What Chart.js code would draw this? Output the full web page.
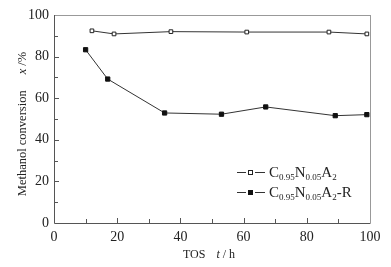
<!DOCTYPE html>
<html>
<head>
<meta charset="utf-8">
<script src="https://cdn.jsdelivr.net/npm/chart.js@4.4.0/dist/chart.umd.min.js"></script>
<style>
html,body{margin:0;padding:0;background:#fff;}
#wrap{width:391px;height:267px;position:relative;}
</style>
</head>
<body>
<div id="wrap"><canvas id="c" width="391" height="267"></canvas></div>
<script>
const xFresh = [12, 19, 37, 61, 87, 99];
const yFresh = [92.4, 90.9, 92.0, 91.8, 91.8, 90.9];
const xRegen = [10, 17, 35, 53, 67, 89, 99];
const yRegen = [83.3, 69.2, 52.9, 52.3, 55.8, 51.6, 52.1];
const xTicks = [0, 20, 40, 60, 80, 100];
const yTicks = [0, 20, 40, 60, 80, 100];
const legendParts1 = [["C",0],["0.95",1],["N",0],["0.05",1],["A",0],["2",1]];
const legendParts2 = [["C",0],["0.95",1],["N",0],["0.05",1],["A",0],["2",1],["-R",0]];

const SERIF = '"Liberation Serif","Times New Roman",serif';

function toPts(xs, ys){ return xs.map((x,i)=>({x:x,y:ys[i]})); }

function drawRich(ctx, parts, x, y, size){
  let cx = x;
  for (const [t, sub] of parts){
    ctx.font = (sub ? Math.round(size*0.62) : size) + 'px ' + SERIF;
    ctx.fillText(t, cx, sub ? y + 3 : y);
    cx += ctx.measureText(t).width;
  }
}

const decor = {
  id: 'decor',
  afterDraw(chart){
    const ctx = chart.ctx;
    const a = chart.chartArea;
    const xs = chart.scales.x, ys = chart.scales.y;
    ctx.save();
    // frame
    ctx.lineWidth = 1;
    ctx.strokeStyle = '#999';
    ctx.beginPath();
    ctx.moveTo(a.left, a.top + 0.5); ctx.lineTo(a.right + 0.5, a.top + 0.5);
    ctx.moveTo(a.right + 0.5, a.top); ctx.lineTo(a.right + 0.5, a.bottom);
    ctx.stroke();
    ctx.strokeStyle = '#555';
    ctx.beginPath();
    ctx.moveTo(a.left + 0.5, a.top); ctx.lineTo(a.left + 0.5, a.bottom + 0.5);
    ctx.lineTo(a.right + 0.5, a.bottom + 0.5);
    ctx.stroke();
    // inward ticks
    ctx.beginPath();
    for (let v = 10; v < 100; v += 10){
      const len = (v % 20 === 0) ? 5 : 4;
      const px = Math.round(xs.getPixelForValue(v)) + 0.5;
      ctx.moveTo(px, a.bottom); ctx.lineTo(px, a.bottom - len);
      const py = Math.round(ys.getPixelForValue(v)) + 0.5;
      ctx.moveTo(a.left, py); ctx.lineTo(a.left + len, py);
    }
    ctx.stroke();
    // axis titles
    ctx.fillStyle = '#222';
    ctx.textBaseline = 'middle';
    ctx.textAlign = 'left';
    // x title
    const XF = 12;
    ctx.font = XF + 'px ' + SERIF;
    const t1 = 'TOS', t2 = 't', t3 = ' / h';
    const w1 = ctx.measureText(t1).width;
    ctx.font = 'italic ' + XF + 'px ' + SERIF;
    const w2 = ctx.measureText(t2).width;
    ctx.font = XF + 'px ' + SERIF;
    const w3 = ctx.measureText(t3).width;
    const gap = 11;
    let sx = 209 - (w1 + gap + w2 + w3)/2;
    const ty = 255;
    ctx.fillText(t1, sx, ty);
    ctx.font = 'italic ' + XF + 'px ' + SERIF;
    ctx.fillText(t2, sx + w1 + gap, ty);
    ctx.font = XF + 'px ' + SERIF;
    ctx.fillText(t3, sx + w1 + gap + w2, ty);
    // y title
    const YF = 12.5;
    ctx.save();
    ctx.translate(23, 124);
    ctx.rotate(-Math.PI/2);
    ctx.font = YF + 'px ' + SERIF;
    const y1 = 'Methanol conversion', y3 = ' /%';
    const yw1 = ctx.measureText(y1).width;
    const yw3 = ctx.measureText(y3).width;
    ctx.font = 'italic ' + YF + 'px ' + SERIF;
    const yw2 = ctx.measureText('x').width;
    const ygap = 16;
    let ox = -(yw1 + ygap + yw2 + yw3)/2;
    ctx.font = YF + 'px ' + SERIF;
    ctx.fillText(y1, ox, 0);
    ctx.font = 'italic ' + YF + 'px ' + SERIF;
    ctx.fillText('x', ox + yw1 + ygap, 0);
    ctx.font = YF + 'px ' + SERIF;
    ctx.fillText(y3, ox + yw1 + ygap + yw2, 0);
    ctx.restore();
    // legend
    const rows = [
      {y: 172, parts: legendParts1, open: true},
      {y: 192, parts: legendParts2, open: false}
    ];
    ctx.textBaseline = 'alphabetic';
    for (const r of rows){
      ctx.strokeStyle = '#333';
      ctx.lineWidth = 1;
      ctx.beginPath();
      ctx.moveTo(237, r.y + 0.5); ctx.lineTo(246, r.y + 0.5);
      ctx.moveTo(255, r.y + 0.5); ctx.lineTo(265, r.y + 0.5);
      ctx.stroke();
      if (r.open){
        ctx.fillStyle = '#fff';
        ctx.fillRect(248, r.y - 2, 5, 5);
        ctx.strokeStyle = '#222';
        ctx.strokeRect(248.5, r.y - 1.5, 4, 4);
      } else {
        ctx.fillStyle = '#111';
        ctx.fillRect(248, r.y - 2, 5, 5);
      }
      ctx.fillStyle = '#222';
      drawRich(ctx, r.parts, 269, r.y + 5, 15);
    }
    ctx.restore();
  }
};

new Chart(document.getElementById('c'), {
  type: 'scatter',
  data: {
    datasets: [
      {
        label: 'C0.95N0.05A2',
        data: toPts(xFresh, yFresh),
        showLine: true,
        borderColor: '#333',
        borderWidth: 1,
        pointStyle: 'rect',
        pointRadius: 2.6,
        pointBackgroundColor: '#fff',
        pointBorderColor: '#222',
        pointBorderWidth: 1
      },
      {
        label: 'C0.95N0.05A2-R',
        data: toPts(xRegen, yRegen),
        showLine: true,
        borderColor: '#333',
        borderWidth: 1,
        pointStyle: 'rect',
        pointRadius: 3,
        pointBackgroundColor: '#111',
        pointBorderColor: '#111',
        pointBorderWidth: 1
      }
    ]
  },
  options: {
    responsive: false,
    animation: false,
    layout: {padding: {left: 0, right: 21, top: 15, bottom: 0}},
    plugins: {legend: {display: false}, tooltip: {enabled: false}},
    scales: {
      x: {
        type: 'linear', min: 0, max: 100,
        afterFit(s){ s.height = 44; },
        afterBuildTicks(s){ s.ticks = xTicks.map(v=>({value:v})); },
        grid: {display: false, drawTicks: false},
        border: {display: false},
        ticks: {color: '#222', padding: 6, maxRotation: 0, font: {family: SERIF, size: 14}}
      },
      y: {
        type: 'linear', min: 0, max: 100,
        afterFit(s){ s.width = 54; },
        afterBuildTicks(s){ s.ticks = yTicks.map(v=>({value:v})); },
        grid: {display: false, drawTicks: false},
        border: {display: false},
        ticks: {color: '#222', padding: 5, font: {family: SERIF, size: 14}}
      }
    }
  },
  plugins: [decor]
});
</script>
</body>
</html>
